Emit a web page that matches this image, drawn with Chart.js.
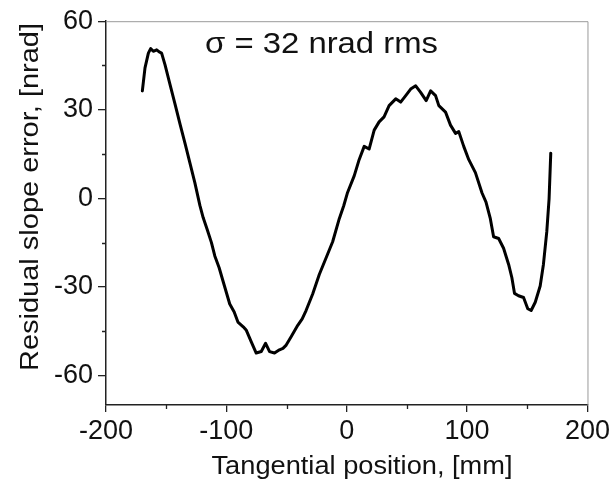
<!DOCTYPE html>
<html>
<head>
<meta charset="utf-8">
<script src="https://cdn.jsdelivr.net/npm/chart.js@4.4.1/dist/chart.umd.min.js"></script>
<style>
html,body{margin:0;padding:0;background:#fff;}
#wrap{width:613px;height:489px;}
</style>
</head>
<body>
<div id="wrap"><canvas id="c" width="613" height="489"></canvas></div>
<script>
// Tangential position [mm]
const positions = [-169.8,-167.6,-164.8,-162.9,-160.7,-157.9,-155.8,-153.8,-151.0,-146.9,-142.7,-138.6,-134.4,-130.3,-126.2,-122.0,-119.3,-116.0,-112.4,-109.6,-106.0,-102.8,-97.2,-93.5,-90.4,-86.0,-83.4,-79.3,-75.2,-71.0,-67.4,-64.1,-60.0,-55.9,-53.0,-50.3,-46.2,-40.7,-37.0,-33.8,-28.3,-22.8,-17.2,-11.7,-6.2,-2.5,0.7,6.2,10.3,14.5,18.6,22.8,26.9,31.0,35.2,40.7,44.8,49.0,53.1,57.3,61.4,66.0,69.7,73.8,76.5,82.1,86.2,90.4,93.1,97.2,101.4,106.9,112.4,115.7,119.3,122.0,126.2,130.3,134.5,137.2,139.4,142.7,146.9,150.4,153.2,156.6,160.7,163.4,166.2,168.1,169.5];
// Residual slope error [nrad]
const slopeError = [36.4,44.2,49.2,50.7,49.8,50.3,49.6,49.2,45.3,38.7,32.0,25.3,18.7,12.0,5.3,-2.4,-6.5,-10.5,-15.0,-19.5,-23.5,-28.0,-35.8,-38.5,-41.9,-43.5,-44.7,-48.6,-52.4,-51.9,-49.1,-51.9,-52.4,-51.3,-50.8,-49.7,-46.9,-43.0,-40.8,-38.0,-32.4,-25.8,-20.2,-14.7,-6.9,-2.5,2.0,7.6,13.1,17.6,16.7,23.1,25.9,27.6,31.4,33.7,32.6,34.8,37.0,38.1,35.9,33.1,36.4,34.8,31.4,29.2,24.8,22.0,22.6,17.6,13.1,8.7,1.8,-1.3,-6.9,-13.0,-13.6,-16.9,-22.4,-26.9,-32.2,-33.0,-33.6,-37.4,-38.0,-35.2,-29.7,-22.4,-11.3,-0.2,15.3];

const xTicks = [-200,-100,0,100,200];
const xMinorTicks = [-150,-50,50,150];
const yTicks = [-60,-30,0,30,60];
const yMinorTicks = [-45,-15,15,45];
const xTitle = 'Tangential position, [mm]';
const yTitle = 'Residual slope error, [nrad]';
const annotation = 'σ = 32 nrad rms';

const FONT = "'Liberation Sans', Arial, sans-serif";

function fitText(ctx, text, cx, cy, targetWidth, rotate) {
  const w = ctx.measureText(text).width;
  ctx.save();
  ctx.translate(cx, cy);
  if (rotate) ctx.rotate(-Math.PI / 2);
  ctx.scale(targetWidth / w, 1);
  ctx.fillText(text, 0, 0);
  ctx.restore();
}

const decorPlugin = {
  id: 'decor',
  afterDraw(chart) {
    const ctx = chart.ctx;
    const a = chart.chartArea;
    const xs = chart.scales.x, ys = chart.scales.y;
    ctx.save();
    // top & right frame (gray)
    ctx.strokeStyle = '#9a9a9a';
    ctx.lineWidth = 1;
    ctx.beginPath();
    ctx.moveTo(a.left, a.top + 0.5);
    ctx.lineTo(a.right + 0.5, a.top + 0.5);
    ctx.lineTo(a.right + 0.5, a.bottom);
    ctx.stroke();
    // minor ticks
    ctx.strokeStyle = '#222';
    ctx.lineWidth = 1.3;
    ctx.beginPath();
    xMinorTicks.forEach(v => {
      const px = Math.round(xs.getPixelForValue(v)) + 0.5;
      ctx.moveTo(px, a.bottom); ctx.lineTo(px, a.bottom + 4);
    });
    yMinorTicks.forEach(v => {
      const py = Math.round(ys.getPixelForValue(v)) + 0.5;
      ctx.moveTo(a.left, py); ctx.lineTo(a.left - 4, py);
    });
    ctx.stroke();
    // axis titles
    ctx.fillStyle = '#111';
    ctx.textAlign = 'center';
    ctx.textBaseline = 'middle';
    ctx.font = '26px ' + FONT;
    fitText(ctx, xTitle, 362, 467, 301, false);
    fitText(ctx, yTitle, 31, 197, 348, true);
    // annotation
    ctx.font = '29px ' + FONT;
    fitText(ctx, annotation, 321.5, 45, 233, false);
    ctx.restore();
  }
};

new Chart(document.getElementById('c'), {
  type: 'scatter',
  data: {
    datasets: [{
      data: positions.map((x, i) => ({x: x, y: slopeError[i]})),
      showLine: true,
      borderColor: '#000',
      borderWidth: 3,
      pointRadius: 0,
      tension: 0,
      fill: false,
      borderJoinStyle: 'round',
      borderCapStyle: 'round'
    }]
  },
  options: {
    responsive: false,
    animation: false,
    devicePixelRatio: 1,
    layout: {padding: {top: 16, right: 24, left: 0, bottom: 0}},
    plugins: {legend: {display: false}, tooltip: {enabled: false}},
    scales: {
      x: {
        type: 'linear',
        min: -200, max: 200,
        afterBuildTicks(s) { s.ticks = xTicks.map(v => ({value: v})); },
        afterFit(s) { s.height = 84; },
        grid: {drawOnChartArea: false, drawTicks: true, tickLength: 7, color: '#222', lineWidth: 1.3},
        border: {display: true, color: '#222', width: 1.5},
        ticks: {color: '#111', font: {family: FONT, size: 27}, padding: 3, maxRotation: 0}
      },
      y: {
        type: 'linear',
        min: -70, max: 60,
        afterBuildTicks(s) { s.ticks = yTicks.map(v => ({value: v})); },
        afterFit(s) { s.width = 106; },
        grid: {drawOnChartArea: false, drawTicks: true, tickLength: 8, color: '#222', lineWidth: 1.3},
        border: {display: true, color: '#222', width: 1.5},
        ticks: {color: '#111', font: {family: FONT, size: 27}, padding: 5}
      }
    }
  },
  plugins: [decorPlugin]
});
</script>
</body>
</html>
